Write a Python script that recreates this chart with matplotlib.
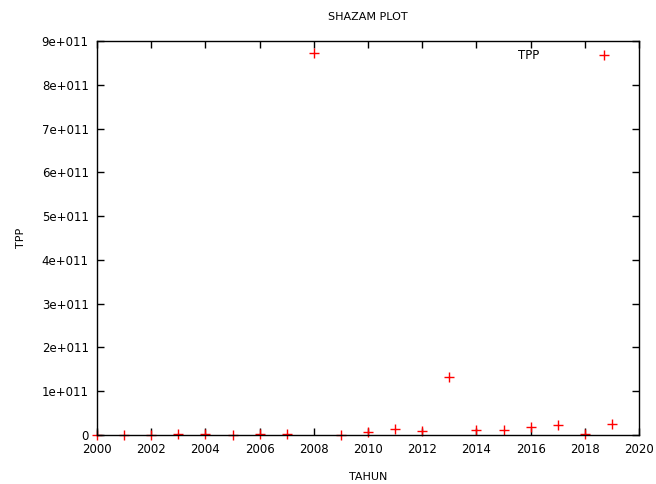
import matplotlib

matplotlib.use("Agg")
import matplotlib.pyplot as plt

# data
tahun = [2000, 2001, 2002, 2003, 2004, 2005, 2006, 2007, 2008, 2009,
         2010, 2011, 2012, 2013, 2014, 2015, 2016, 2017, 2018, 2019]
tpp = [0, 0, 0, 1.5e9, 1.5e9, 0, 1.5e9, 1.5e9, 8.73e11, 0,
       6e9, 1.3e10, 1e10, 1.33e11, 1.2e10, 1.2e10, 1.9e10, 2.2e10, 3e9, 2.5e10]

x_ticks = list(range(2000, 2021, 2))
y_ticks = [i * 1e11 for i in range(10)]
y_labels = ["0"] + [f"{i}e+011" for i in range(1, 10)]

plt.rcParams["font.family"] = ["DejaVu Sans"]
plt.rcParams["font.size"] = 8

fig = plt.figure(figsize=(6.56, 4.84), dpi=100)
ax = fig.add_axes([97 / 656, 1 - 435 / 484, (639 - 97) / 656, (435 - 41) / 484])

ax.plot(tahun, tpp, linestyle="none", marker="+", color="red",
        markersize=6.5, markeredgewidth=1.0, label="TPP", clip_on=False)

ax.set_xlim(2000, 2020)
ax.set_ylim(0, 9e11)
ax.set_xticks(x_ticks)
ax.set_yticks(y_ticks)
ax.set_yticklabels(y_labels)
ax.tick_params(direction="in", top=True, right=True, length=5, width=1, pad=6,
               labelsize=8.5)
for s in ax.spines.values():
    s.set_linewidth(1)

ax.set_title("SHAZAM PLOT", fontsize=8, pad=15)
ax.set_xlabel("TAHUN", fontsize=8, labelpad=11)
ax.set_ylabel("TPP", fontsize=8, labelpad=11)

ax.legend(loc="upper right", markerfirst=False, frameon=False, fontsize=8.5,
          handlelength=5, handletextpad=3, borderaxespad=0.3,
          bbox_to_anchor=(1.005, 1.0))

fig.savefig("out.png", dpi=100)
plt.close(fig)
